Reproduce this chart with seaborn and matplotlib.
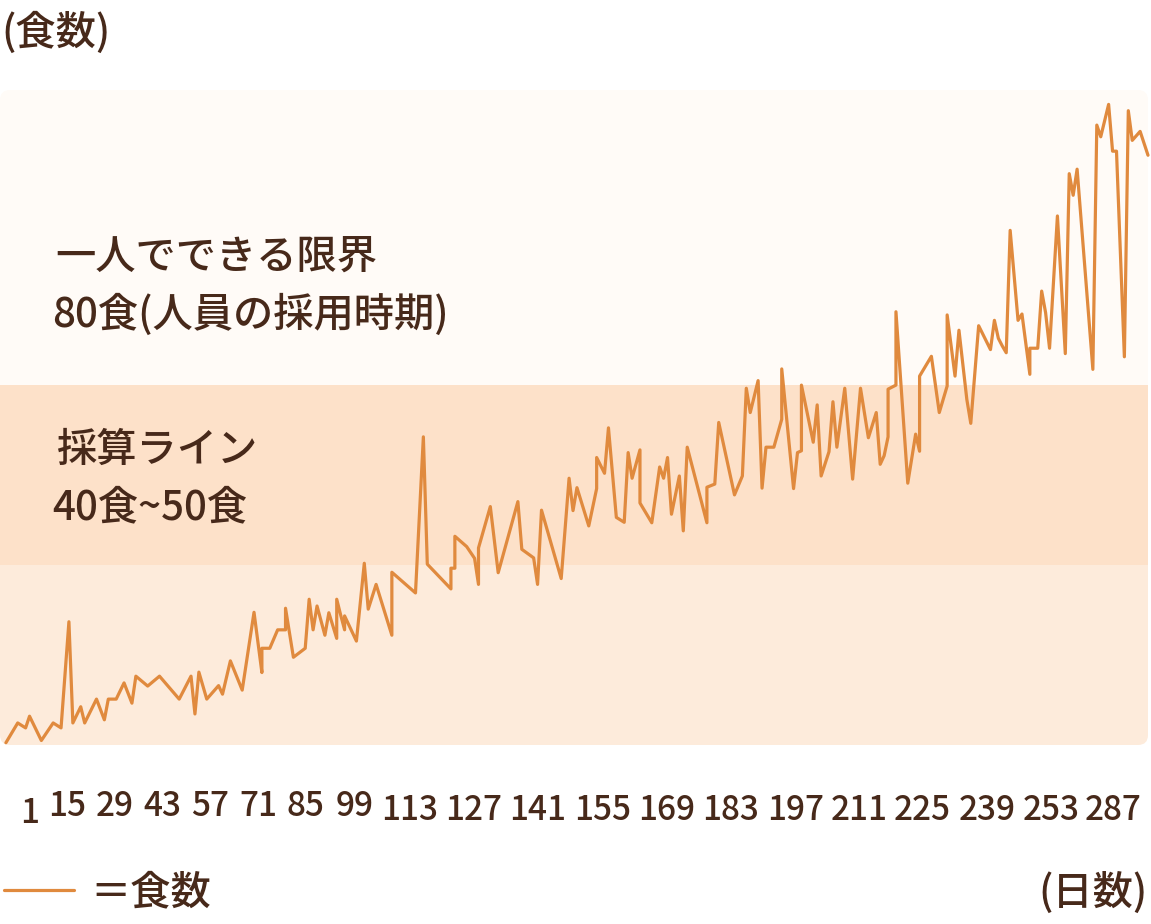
import numpy as np
import pandas as pd
import seaborn as sns
import matplotlib.pyplot as plt
import matplotlib.transforms as mtransforms
from matplotlib.patches import FancyBboxPatch

# ---- data -------------------------------------------------------------
days = [1, 4, 6, 7, 10, 13, 15, 17, 18, 20, 21, 24, 26, 27, 29, 31, 33, 34, 37, 40,
        45, 48, 49, 50, 52, 55, 56, 58, 61, 64, 66, 66, 68, 70, 72, 72, 74, 77, 78, 79,
        80, 82, 83, 85, 85, 86, 87, 87, 90, 92, 93, 95, 99, 99, 105, 107, 108, 114, 114, 115,
        115, 118, 120, 121, 121, 124, 126, 131, 132, 135, 136, 137, 142, 144, 145, 146, 149, 151, 151, 153,
        154, 156, 158, 159, 160, 162, 162, 165, 167, 168, 169, 170, 172, 173, 174, 179, 179, 181, 182, 186,
        188, 189, 190, 192, 193, 194, 196, 198, 198, 201, 202, 203, 203, 206, 207, 208, 210, 211, 212, 214,
        216, 218, 220, 222, 223, 224, 225, 225, 227, 227, 230, 232, 233, 233, 236, 238, 240, 240, 242, 243,
        245, 246, 248, 251, 252, 253, 254, 255, 256, 258, 259, 261, 261, 263, 264, 265, 266, 268, 270, 271,
        272, 273, 277, 278, 279, 281, 282, 283, 285, 286, 287, 289, 291]

meals = [0.5, 4.9, 3.8, 6.4, 1.0, 4.9, 3.8, 27.4, 4.9, 8.5, 4.9, 10.2, 5.6, 10.2, 10.2, 13.8, 9.3, 15.3, 13.1, 15.3,
         10.2, 15.3, 6.9, 16.2, 10.2, 13.2, 11.3, 18.7, 12.2, 29.5, 16.1, 21.5, 21.5, 25.6, 25.6, 30.4, 19.5, 21.5, 32.4, 25.6,
         30.9, 24.4, 29.4, 23.7, 32.4, 28.9, 25.6, 28.7, 23.1, 40.4, 30.2, 35.7, 24.4, 38.4, 33.8, 68.5, 40.2, 34.7, 39.3, 39.3,
         46.4, 44.1, 41.5, 35.7, 43.8, 53.0, 38.3, 54.1, 43.5, 41.6, 35.7, 52.2, 37.0, 59.3, 52.1, 57.2, 48.7, 57.0, 63.9, 60.4,
         70.5, 50.6, 49.5, 65.0, 59.3, 65.6, 53.8, 49.4, 61.8, 59.3, 63.9, 51.3, 59.8, 47.6, 66.2, 49.4, 57.3, 58.0, 71.7, 55.6,
         59.8, 79.3, 73.9, 81.0, 57.1, 66.2, 66.2, 72.4, 83.6, 57.0, 65.0, 65.4, 80.0, 67.3, 75.6, 59.8, 65.2, 76.3, 66.2, 79.3,
         59.1, 79.3, 68.3, 73.9, 62.4, 64.3, 68.5, 79.1, 80.0, 96.3, 58.2, 69.1, 65.3, 82.0, 86.4, 73.9, 79.8, 95.6, 82.0, 92.2,
         76.8, 71.5, 93.2, 87.9, 94.4, 90.4, 88.7, 87.2, 114.4, 94.4, 95.8, 82.4, 88.2, 88.2, 100.9, 96.1, 88.2, 117.6, 87.0, 127.0,
         122.2, 128.0, 83.5, 137.8, 135.2, 142.4, 132.0, 132.0, 86.3, 141.0, 134.4, 136.4, 131.1]

tick_labels = ["1", "15", "29", "43", "57", "71", "85", "99", "113", "127", "141",
               "155", "169", "183", "197", "211", "225", "239", "253", "287"]
tick_pos = [7.1, 16.5, 28.7, 40.7, 52.9, 65.0, 77.1, 89.6, 103.5, 119.8, 136.0,
            152.5, 168.7, 185.0, 201.5, 217.7, 233.7, 250.2, 266.5, 282.2]

band_limits = [0, 40, 80, 145.6]

df = pd.DataFrame({"日": days, "食数": meals})

# ---- style ------------------------------------------------------------
sns.set_theme(style="white")
plt.rcParams["font.family"] = ["Noto Sans CJK JP", "DejaVu Sans"]

TEXT = "#47291a"
LINE = "#e08a3e"
C_LOW = "#fdebdb"
C_MID = "#fde1c9"
C_TOP = "#fffbf7"
WEIGHT = "medium"

W, H = 1151, 924
fig = plt.figure(figsize=(W / 100, H / 100), dpi=100)
fig.patch.set_facecolor("white")
ax_l, ax_r, ax_t, ax_b = 0, 1148, 90, 745
ax = fig.add_axes([ax_l / W, 1 - ax_b / H, (ax_r - ax_l) / W, (ax_b - ax_t) / H])
ax.set_facecolor("white")

ymax = band_limits[-1]
aspect = (ax_r - ax_l) / (ax_b - ax_t)
r = 10 / (ax_r - ax_l)
top = FancyBboxPatch((0, band_limits[2] / ymax - 0.1), 1, 1 - band_limits[2] / ymax + 0.1,
                     boxstyle=f"round,pad=0,rounding_size={r}", mutation_aspect=aspect,
                     transform=ax.transAxes, facecolor=C_TOP, edgecolor="none", zorder=0)
low = FancyBboxPatch((0, 0), 1, band_limits[1] / ymax + 0.1,
                     boxstyle=f"round,pad=0,rounding_size={r}", mutation_aspect=aspect,
                     transform=ax.transAxes, facecolor=C_LOW, edgecolor="none", zorder=0)
ax.add_patch(top)
ax.add_patch(low)
ax.axhspan(band_limits[1], band_limits[2], color=C_MID, lw=0, zorder=0.5)

sns.lineplot(data=df, x="日", y="食数", estimator=None, sort=False, color=LINE,
             linewidth=2.3, ax=ax, label="＝食数", zorder=3, clip_on=False)

ax.set_xlim(-0.5, 291)
ax.set_ylim(0, ymax)
for s in ax.spines.values():
    s.set_visible(False)
ax.set_yticks([])
ax.set_xticks(tick_pos)
ax.set_xticklabels(tick_labels)
ax.tick_params(axis="x", length=0, pad=32, labelsize=24, labelcolor=TEXT)
for lab in ax.get_xticklabels():
    lab.set_fontweight(WEIGHT)
    n = len(lab.get_text())
    dy = {1: -7, 2: 0, 3: -4}[n]
    lab.set_transform(lab.get_transform() +
                      mtransforms.ScaledTranslation(0, dy / 100, fig.dpi_scale_trans))
ax.set_xlabel("")
ax.set_ylabel("")

handles, labels = ax.get_legend_handles_labels()
ax.get_legend().remove()
leg = fig.legend(handles, labels, loc="center left", bbox_to_anchor=(4 / W, 1 - 893 / H),
                 frameon=False, fontsize=29, handlelength=1.75, handletextpad=0.4,
                 borderpad=0, borderaxespad=0, labelcolor=TEXT)
for t in leg.get_texts():
    t.set_fontweight(WEIGHT)

fs = 29
kw = dict(color=TEXT, va="center", fontweight=WEIGHT)
fig.text(1 / W, 1 - 33 / H, "(食数)", fontsize=fs, ha="left", **kw)
fig.text(1148 / W, 1 - 893 / H, "(日数)", fontsize=fs, ha="right", **kw)
fig.text(55 / W, 1 - 257 / H, "一人でできる限界", fontsize=29, ha="left", **kw)
fig.text(52 / W, 1 - 315 / H, "80食(人員の採用時期)", fontsize=29, ha="left", **kw)
fig.text(57 / W, 1 - 450 / H, "採算ライン", fontsize=29, ha="left", **kw)
fig.text(52 / W, 1 - 508 / H, "40食~50食", fontsize=29, ha="left", **kw)

fig.savefig("out.png", dpi=100, facecolor="white")
